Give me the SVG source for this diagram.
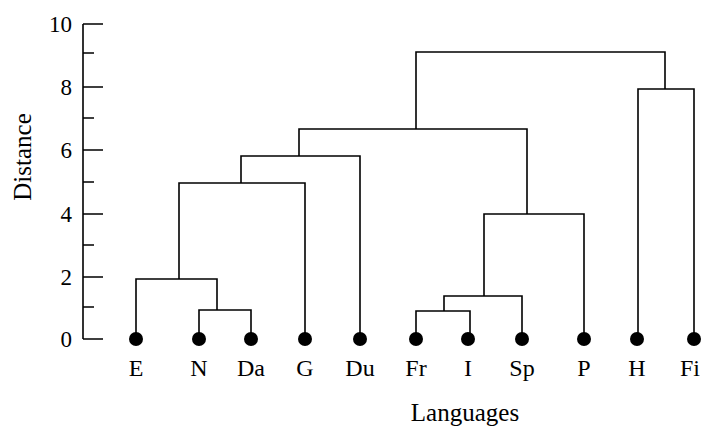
<svg xmlns="http://www.w3.org/2000/svg" width="702" height="434" viewBox="0 0 702 434">
<style>
.ln{stroke:#000;stroke-width:1.6;fill:none}
.t{font-family:"Liberation Serif",serif;fill:#000}
.num{font-size:23px;text-anchor:end}
.lab{font-size:24px;text-anchor:middle}
.ttl{font-size:25px;text-anchor:middle}
.dot{fill:#000}
</style>
<rect width="702" height="434" fill="#fff"/>
<g id="axis">
<path class="ln" d="M83,24V339 M83,24H103 M83,53H94 M83,87H103 M83,118H94 M83,150H103 M83,182H94 M83,214H103 M83,245H94 M83,277H103 M83,307H94 M83,339H103"/>
<text class="t num" x="72" y="32">10</text>
<text class="t num" x="72" y="95">8</text>
<text class="t num" x="72" y="158">6</text>
<text class="t num" x="72" y="222">4</text>
<text class="t num" x="72" y="285">2</text>
<text class="t num" x="72" y="347">0</text>
<text class="t ttl" transform="translate(31,157) rotate(-90)">Distance</text>
<text class="t ttl" x="465" y="421">Languages</text>
</g>
<g id="connectors">
<path class="ln" d="M199,339V310H251V339"/>
<path class="ln" d="M136,339V279H217V310"/>
<path class="ln" d="M179,279V183H305V339"/>
<path class="ln" d="M241,183V156H360V339"/>
<path class="ln" d="M416,339V311H470V339"/>
<path class="ln" d="M444,311V296H522V339"/>
<path class="ln" d="M484,296V214H584V339"/>
<path class="ln" d="M299,156V129H527V214"/>
<path class="ln" d="M638,339V89H694V339"/>
<path class="ln" d="M416,129V52H665V89"/>
</g>
<g id="node-E"><circle class="dot" cx="136" cy="339" r="7"/><text class="t lab" x="136" y="376">E</text></g>
<g id="node-N"><circle class="dot" cx="199" cy="339" r="7"/><text class="t lab" x="199" y="376">N</text></g>
<g id="node-Da"><circle class="dot" cx="251" cy="339" r="7"/><text class="t lab" x="251" y="376">Da</text></g>
<g id="node-G"><circle class="dot" cx="305" cy="339" r="7"/><text class="t lab" x="305" y="376">G</text></g>
<g id="node-Du"><circle class="dot" cx="360" cy="339" r="7"/><text class="t lab" x="360" y="376">Du</text></g>
<g id="node-Fr"><circle class="dot" cx="416" cy="339" r="7"/><text class="t lab" x="416" y="376">Fr</text></g>
<g id="node-I"><circle class="dot" cx="468" cy="339" r="7"/><text class="t lab" x="468" y="376">I</text></g>
<g id="node-Sp"><circle class="dot" cx="522" cy="339" r="7"/><text class="t lab" x="522" y="376">Sp</text></g>
<g id="node-P"><circle class="dot" cx="584" cy="339" r="7"/><text class="t lab" x="584" y="376">P</text></g>
<g id="node-H"><circle class="dot" cx="637" cy="339" r="7"/><text class="t lab" x="637" y="376">H</text></g>
<g id="node-Fi"><circle class="dot" cx="694" cy="339" r="7"/><text class="t lab" x="700" y="376" style="text-anchor:end">Fi</text></g>
</svg>
